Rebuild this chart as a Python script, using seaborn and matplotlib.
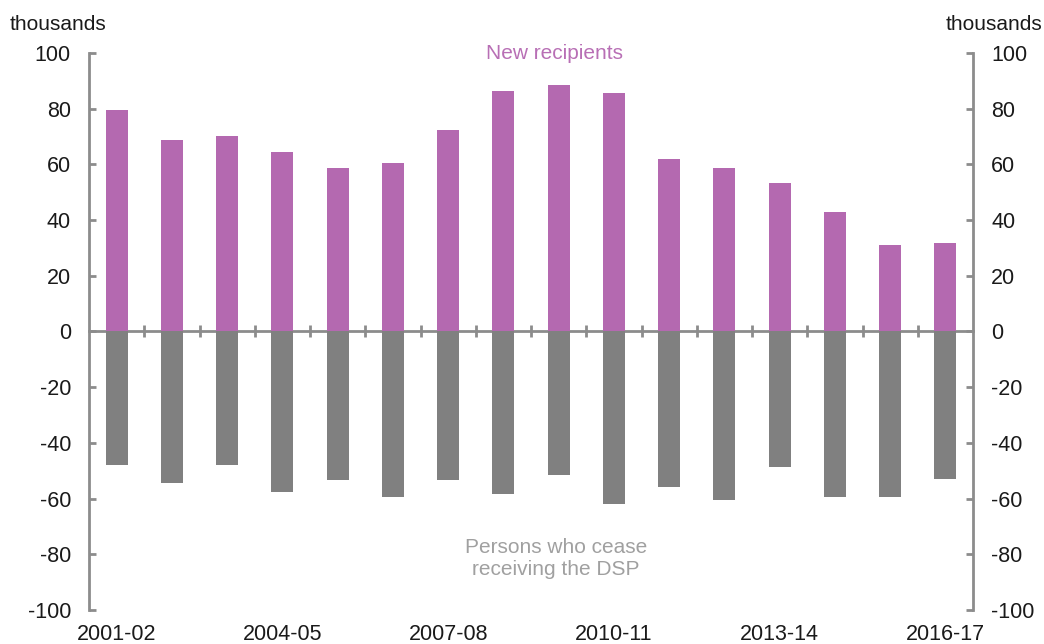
import numpy as np
import pandas as pd
import matplotlib
matplotlib.use("Agg")
import matplotlib.pyplot as plt
import seaborn as sns

years = ["2001-02", "2002-03", "2003-04", "2004-05", "2005-06", "2006-07", "2007-08", "2008-09",
         "2009-10", "2010-11", "2011-12", "2012-13", "2013-14", "2014-15", "2015-16", "2016-17"]
new_recipients = [79.5, 68.8, 70.2, 64.6, 58.6, 60.4, 72.2, 86.2, 88.4, 85.7, 61.8, 58.6, 53.5, 43.0, 30.9, 31.8]
ceased = [-47.9, -54.5, -47.9, -57.6, -53.4, -59.6, -53.4, -58.5, -51.6, -61.8, -55.8, -60.4, -48.8, -59.6, -59.6, -53.1]
label_years = ["2001-02", "2004-05", "2007-08", "2010-11", "2013-14", "2016-17"]

purple = "#B469B0"
grey = "#808080"
axis_grey = "#8C8C8C"

sns.set_style("white")
plt.rcParams["font.family"] = ["Liberation Sans", "DejaVu Sans"]
plt.rcParams["axes.unicode_minus"] = False
plt.rcParams["text.color"] = "#1A1A1A"

df = pd.DataFrame({
    "year": years * 2,
    "value": new_recipients + ceased,
    "series": ["New recipients"] * len(years) + ["Ceased"] * len(years),
})

fig = plt.figure(figsize=(10.44, 6.44), dpi=100)
ax = fig.add_axes([0.0853, 0.0528, 0.8467, 0.8649])

sns.barplot(data=df, x="year", y="value", hue="series", dodge=False, width=0.4,
            palette={"New recipients": purple, "Ceased": grey}, saturation=1,
            linewidth=0, legend=False, ax=ax, zorder=3)

ax.set_xlim(-0.5, len(years) - 0.5)
ax.set_ylim(-100, 100)
ax.set_yticks(np.arange(-100, 101, 20))
ax.set_xlabel("")
ax.set_ylabel("")

# spines: left/right visible, bottom moved to the zero line
ax.spines["top"].set_visible(False)
ax.spines["bottom"].set_position(("data", 0))
for s in ["left", "right", "bottom"]:
    ax.spines[s].set_color(axis_grey)
    ax.spines[s].set_linewidth(2)

ax.tick_params(axis="y", which="major", direction="in", length=5, width=2, color=axis_grey,
               left=True, right=True, labelleft=True, labelright=True, pad=13,
               labelsize=15.5, labelcolor="#1A1A1A")

# category boundary ticks on the zero line
ax.set_xticks([], minor=False)
ax.set_xticks(np.arange(0.5, len(years) - 1, 1), minor=True)
ax.tick_params(axis="x", which="minor", direction="inout", length=8, width=2,
               color=axis_grey, bottom=True)

# year labels below the plot area
sec = ax.secondary_xaxis("bottom")
sec.set_xticks([years.index(y) for y in label_years], labels=label_years)
sec.tick_params(length=0, pad=10, labelsize=15.5, labelcolor="#1A1A1A")
sec.spines["bottom"].set_visible(False)

ax.text(7.92, 100, "New recipients", color="#B86FB5", ha="center", va="center", fontsize=15)
ax.text(7.95, -81.5, "Persons who cease\nreceiving the DSP", color="#A0A0A0",
        ha="center", va="center", fontsize=15, linespacing=1.15)

fig.text(10 / 1044, 1 - 24 / 644, "thousands", ha="left", va="center", fontsize=15)
fig.text(1042 / 1044, 1 - 24 / 644, "thousands", ha="right", va="center", fontsize=15)

fig.savefig("out.png", dpi=100)
